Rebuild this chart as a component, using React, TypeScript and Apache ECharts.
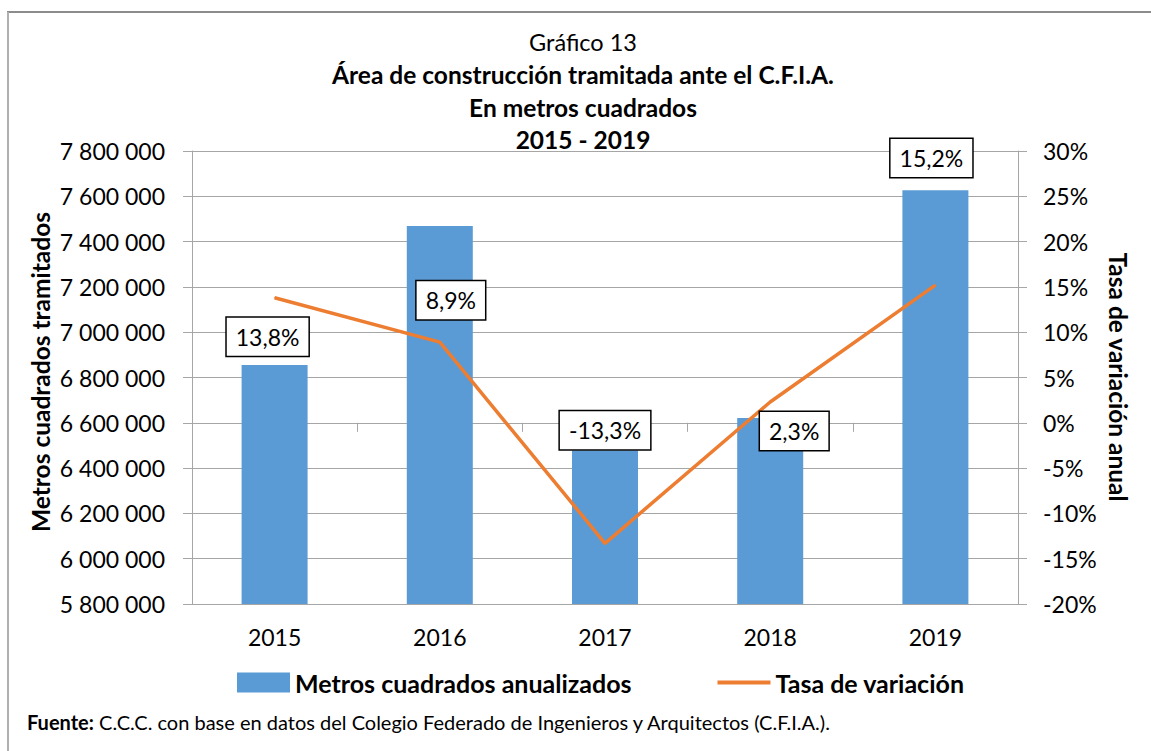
import React, { useEffect, useRef } from "react";
import * as echarts from "echarts";

const years = ["2015", "2016", "2017", "2018", "2019"];
const metrosCuadrados = [6855000, 7469000, 6478000, 6621000, 7627000];
const tasaVariacion = [13.8, 8.9, -13.3, 2.3, 15.2];
const labelOffsets: [number, number][] = [
  [-7, 39],
  [11, -42],
  [0, -113],
  [24, 29],
  [-4, -127],
];
const titleLines = [
  "Gráfico 13",
  "Área de construcción tramitada ante el C.F.I.A.",
  "En metros cuadrados",
  "2015 - 2019",
];

const FONT = "Lato, 'Open Sans', sans-serif";

function fmtThousands(v: number): string {
  return String(Math.round(v)).replace(/\B(?=(\d{3})+(?!\d))/g, " ");
}

export default function App() {
  const ref = useRef<HTMLDivElement>(null);
  useEffect(() => {
    if (!ref.current) return;
    const chart = echarts.init(ref.current, null, { renderer: "svg" });
    const gray = "#a6a6a6";
    const titleY = [42, 74, 107, 139];
    const graphic: any[] = [
      { type: "line", shape: { x1: 7, y1: 12, x2: 1151, y2: 12 }, style: { stroke: "#8c8c8c", lineWidth: 2 } },
      { type: "line", shape: { x1: 8, y1: 12, x2: 8, y2: 751 }, style: { stroke: "#b0b0b0", lineWidth: 2 } },
      ...titleLines.map((t, i) => ({
        type: "text",
        x: 583,
        y: titleY[i],
        style: {
          text: t,
          font: `${i === 0 ? "normal 23.5px" : "bold 24.5px"} ${FONT}`,
          fill: "#000",
          textAlign: "center",
          textVerticalAlign: "middle",
        },
      })),
      {
        type: "text",
        x: 40,
        y: 372,
        rotation: Math.PI / 2,
        style: {
          text: "Metros cuadrados tramitados",
          font: `bold 24.5px ${FONT}`,
          fill: "#000",
          textAlign: "center",
          textVerticalAlign: "middle",
        },
      },
      {
        type: "text",
        x: 1118,
        y: 377,
        rotation: -Math.PI / 2,
        style: {
          text: "Tasa de variación anual",
          font: `bold 24.5px ${FONT}`,
          fill: "#000",
          textAlign: "center",
          textVerticalAlign: "middle",
        },
      },
      {
        type: "text",
        x: 27,
        y: 722,
        style: {
          text: "{b|Fuente:} C.C.C. con base en datos del Colegio Federado de Ingenieros y Arquitectos (C.F.I.A.).",
          font: `normal 20px ${FONT}`,
          fill: "#000",
          textVerticalAlign: "middle",
          rich: { b: { fontWeight: "bold", fontSize: 20, fontFamily: FONT, fill: "#000" } },
        },
      },
    ];

    chart.setOption({
      animation: false,
      textStyle: { fontFamily: FONT },
      grid: { left: 192, right: 133, top: 151, bottom: 147, containLabel: false },
      legend: {
        left: 237,
        top: 670,
        padding: 0,
        itemWidth: 53,
        itemHeight: 20,
        itemGap: 86,
        symbolKeepAspect: true,
        textStyle: { fontFamily: FONT, fontWeight: "bold", fontSize: 25, color: "#000" },
        data: [
          { name: "Metros cuadrados anualizados", icon: "rect" },
          {
            name: "Tasa de variación",
            icon: "path://M0,0 L53,0 L53,4 L0,4 Z",
            itemStyle: { color: "#ed7d31" },
          },
        ],
      },
      xAxis: {
        type: "category",
        data: years,
        axisLine: { lineStyle: { color: gray, width: 1 } },
        axisTick: { show: true, length: 9, lineStyle: { color: gray } },
        axisLabel: { fontFamily: FONT, fontSize: 23, color: "#000", margin: 21 },
      },
      yAxis: [
        {
          type: "value",
          min: 5800000,
          max: 7800000,
          interval: 200000,
          axisLine: { show: true, lineStyle: { color: gray, width: 1 } },
          axisTick: { show: true, length: 9, lineStyle: { color: gray } },
          splitLine: { show: true, lineStyle: { color: gray, width: 1 } },
          axisLabel: {
            fontFamily: FONT,
            fontSize: 23,
            color: "#000",
            margin: 27,
            formatter: (v: number) => fmtThousands(v),
          },
        },
        {
          type: "value",
          min: -20,
          max: 30,
          interval: 5,
          position: "right",
          axisLine: { show: true, lineStyle: { color: gray, width: 1 } },
          axisTick: { show: true, length: 9, lineStyle: { color: gray } },
          splitLine: { show: false },
          axisLabel: {
            fontFamily: FONT,
            fontSize: 23,
            color: "#000",
            margin: 25,
            formatter: (v: number) => `${v}%`,
          },
        },
      ],
      series: [
        {
          name: "Metros cuadrados anualizados",
          type: "bar",
          data: metrosCuadrados,
          barWidth: 66,
          itemStyle: { color: "#5b9bd5" },
          z: 2,
        },
        {
          name: "Tasa de variación",
          type: "line",
          yAxisIndex: 1,
          data: tasaVariacion.map((v, i) => ({
            value: v,
            label: { offset: labelOffsets[i] },
          })),
          symbol: "circle",
          symbolSize: 1,
          showSymbol: true,
          itemStyle: { color: "#ed7d31" },
          lineStyle: { color: "#ed7d31", width: 3.5 },
          z: 3,
          label: {
            show: true,
            position: "inside",
            align: "center",
            verticalAlign: "middle",
            fontFamily: FONT,
            fontSize: 23,
            color: "#000",
            backgroundColor: "#fff",
            borderColor: "#000",
            borderWidth: 1.5,
            padding: [8, 9, 7, 9],
            formatter: (p: any) => `${Number(p.value).toFixed(1).replace(".", ",")}%`,
          },
        },
      ],
      graphic,
    });
    return () => chart.dispose();
  }, []);
  return (
    <div
      ref={ref}
      style={{ position: "absolute", left: 0, top: 0, width: 1151, height: 751, background: "#fff" }}
    />
  );
}
